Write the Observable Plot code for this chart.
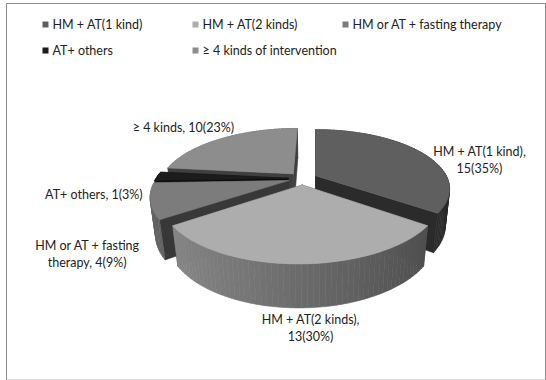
<!DOCTYPE html>
<html><head><meta charset="utf-8">
<script src="https://cdn.jsdelivr.net/npm/d3@7"></script>
<script src="https://cdn.jsdelivr.net/npm/@observablehq/plot@0.6"></script>
<style>html,body{margin:0;padding:0;background:#fff}#chart svg{display:block}</style>
</head><body><div id="chart"></div>
<script>
// ---- data ----
const categories = ["HM + AT(1 kind)", "HM + AT(2 kinds)", "HM or AT + fasting therapy", "AT+ others", "≥ 4 kinds of intervention"];
const counts = [15, 13, 4, 1, 10];
const percents = ["35%", "30%", "9%", "3%", "23%"];
const labelNames = ["HM + AT(1 kind)", "HM + AT(2 kinds)", "HM or AT + fasting\ntherapy", "AT+ others", "≥ 4 kinds"];
const labelSeparators = [",\n", ",\n", ", ", ", ", ", "];

// ---- styles / layout ----
const topColors = ["#5f5f5f", "#adadad", "#7c7c7c", "#1c1c1c", "#8d8d8d"];
const labelNudges = [[60, -10], [12, 41], [-66, 33], [-66, -1], [-40, -28]];
const W = 546, H = 380;
const cam = {cx: 315, cy: 178, f: 545, sx: 0.97, D: 4, phi: 25 * Math.PI / 180, depth: 0.3, explode: 0.11};
const cosP = Math.cos(cam.phi), sinP = Math.sin(cam.phi);
function zDepth(X, Y, Z) { return cam.D + Z * cosP - Y * sinP; }
function project(X, Y, Z) {
  const yc = Y * cosP + Z * sinP, zc = zDepth(X, Y, Z);
  return [cam.cx + cam.sx * cam.f * X / zc, cam.cy - cam.f * yc / zc];
}
function shade(hex, k) { const c = d3.rgb(hex); return d3.rgb(c.r * k, c.g * k, c.b * k).formatHex(); }

const arcs = d3.pie().sort(null).value(d => d)(counts);
const mid = i => (arcs[i].startAngle + arcs[i].endAngle) / 2;
const order = d3.range(counts.length).sort((a, b) => Math.cos(mid(b)) - Math.cos(mid(a)));

const pts = [];
let pid = 0;
function addPoly(poly, fill) {
  const id = pid++;
  for (const [x, y] of [...poly, poly[0]]) pts.push({id, x, y, fill});
}
const labels = [];
const h = cam.depth, e = cam.explode;
// camera axis passes through the first slice's leading edge
const X0 = -e * Math.sin(mid(0));
for (const i of order) {
  const a0 = arcs[i].startAngle, a1 = arcs[i].endAngle, m = mid(i);
  const ox = X0 + e * Math.sin(m), oz = e * Math.cos(m);
  const W3 = (t, r, Y) => [ox + r * Math.sin(t), Y, oz + r * Math.cos(t)];
  const P = (t, r, Y) => project(...W3(t, r, Y));
  const D3 = (t, r, Y) => zDepth(...W3(t, r, Y));
  const base = topColors[i];
  const faces = [];
  for (const t of [a0, a1]) {
    faces.push({poly: [P(t, 0, 0), P(t, 1, 0), P(t, 1, -h), P(t, 0, -h)], depth: D3(t, 0.5, -h / 2), fill: shade(base, 0.45)});
  }
  const n = Math.max(2, Math.ceil((a1 - a0) / (Math.PI / 90)));
  for (let j = 0; j < n; j++) {
    const t0 = a0 + (a1 - a0) * j / n, t1 = a0 + (a1 - a0) * (j + 1) / n, tm = (t0 + t1) / 2;
    faces.push({poly: [P(t0, 1, 0), P(t1, 1, 0), P(t1, 1, -h), P(t0, 1, -h)], depth: D3(tm, 1, -h / 2), fill: shade(base, 0.62 - 0.2 * Math.sin(tm))});
  }
  faces.sort((a, b) => b.depth - a.depth);
  for (const f of faces) addPoly(f.poly, f.fill);
  const top = [P(a0, 0, 0)];
  for (let j = 0; j <= n; j++) top.push(P(a0 + (a1 - a0) * j / n, 1, 0));
  addPoly(top, base);
  const [lx, ly] = P(m, 1, -h / 2);
  labels.push({x: lx + labelNudges[i][0], y: ly + labelNudges[i][1], text: `${labelNames[i]}${labelSeparators[i]}${counts[i]}(${percents[i]})`});
}

const legend = categories.map((c, i) => ({x: 45 + 150 * (i % 3), y: 24 + 26 * Math.floor(i / 3), text: c, fill: topColors[i]}));

const chart = Plot.plot({
  width: W, height: H,
  marginLeft: 6, marginTop: 3, marginRight: 1, marginBottom: 1,
  x: {domain: [6, W - 1], axis: null},
  y: {domain: [3, H - 1], reverse: true, axis: null},
  color: {type: "identity"},
  style: {fontFamily: "Lato, 'Open Sans', sans-serif", background: "#fff"},
  marks: [
    Plot.frame({anchor: "bottom", stroke: "#e2e2e2"}),
    Plot.frame({anchor: "top", stroke: "#8c8c8c"}),
    Plot.frame({anchor: "left", stroke: "#8c8c8c"}),
    Plot.frame({anchor: "right", stroke: "#8c8c8c"}),
    Plot.line(pts, {x: "x", y: "y", z: "id", fill: "fill", stroke: "fill", strokeWidth: 0.6, curve: "linear"}),
    Plot.dot(legend, {x: "x", y: "y", symbol: "square", r: 3.4, fill: "fill"}),
    Plot.text(legend, {x: d => d.x + 7, y: "y", text: "text", textAnchor: "start", fontSize: 12.5, fill: "#222"}),
    Plot.text(labels, {x: "x", y: "y", text: "text", textAnchor: "middle", lineAnchor: "middle", lineHeight: 1.36, fontSize: 12.5, fill: "#222"})
  ]
});
document.getElementById("chart").appendChild(chart);
</script>
</body></html>
